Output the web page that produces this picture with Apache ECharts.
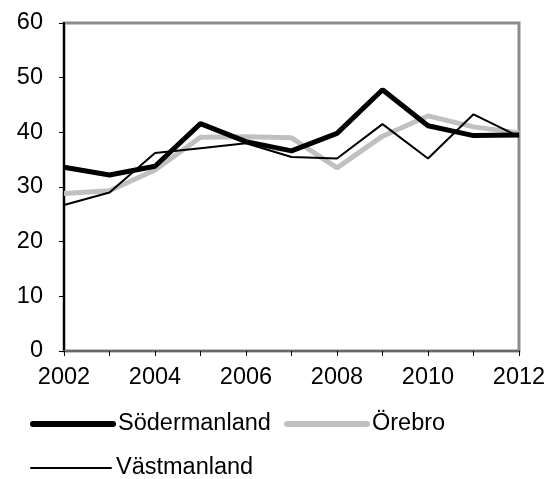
<!DOCTYPE html>
<html>
<head>
<meta charset="utf-8">
<script src="https://cdn.jsdelivr.net/npm/echarts@6/dist/echarts.min.js"></script>
<style>
  html, body { margin: 0; padding: 0; background: #fff; }
  #main { width: 552px; height: 479px; }
</style>
</head>
<body>
<div id="main"></div>
<script>
var years = ['2002', '2003', '2004', '2005', '2006', '2007', '2008', '2009', '2010', '2011', '2012'];
var sodermanland = [33.6, 32.2, 33.8, 41.6, 38.3, 36.6, 39.8, 47.8, 41.2, 39.4, 39.5];
var orebro = [28.8, 29.3, 33.1, 39.1, 39.2, 39.0, 33.5, 39.3, 43.0, 41.0, 39.9];
var vastmanland = [26.7, 29.0, 36.2, 37.1, 38.0, 35.5, 35.2, 41.5, 35.2, 43.3, 39.2];

var font = 'Liberation Sans, Arial, sans-serif';
var chart = echarts.init(document.getElementById('main'));

// one legend per entry so each can sit where it does in the original
function legendAt(name, left, top, lw) {
  return {
    data: [name],
    left: left,
    top: top,
    itemWidth: 80,
    itemHeight: 14,
    padding: 0,
    itemStyle: { color: 'transparent', borderWidth: 0 },
    lineStyle: { width: lw, cap: 'round' },
    textStyle: { fontFamily: font, fontSize: 23.5, color: '#000' }
  };
}

chart.setOption({
  animation: false,
  grid: {
    left: 64, right: 33, top: 23, bottom: 128,
    show: true,
    borderColor: '#8c8c8c',
    borderWidth: 3
  },
  legend: [
    legendAt('Södermanland', 30, 412, 6),
    legendAt('Örebro', 284, 412, 6),
    legendAt('Västmanland', 30, 456, 2)
  ],
  xAxis: {
    type: 'category',
    data: years,
    boundaryGap: false,
    axisLine: { lineStyle: { color: '#666', width: 2 } },
    axisTick: { show: true, interval: 0, length: 5, lineStyle: { color: '#000' } },
    axisLabel: { interval: 1, margin: 15, fontFamily: font, fontSize: 23.5, color: '#000' },
    splitLine: { show: false }
  },
  yAxis: {
    type: 'value',
    min: 0, max: 60, interval: 10,
    axisLine: { show: true, lineStyle: { color: '#000', width: 2 } },
    axisTick: { show: true, length: 5, lineStyle: { color: '#000' } },
    axisLabel: { margin: 21, fontFamily: font, fontSize: 23.5, color: '#000' },
    splitLine: { show: false }
  },
  series: [
    {
      name: 'Södermanland', type: 'line', data: sodermanland,
      symbol: 'none', z: 3,
      lineStyle: { color: '#000', width: 5 }, itemStyle: { color: '#000' }
    },
    {
      name: 'Örebro', type: 'line', data: orebro,
      symbol: 'none', z: 2,
      lineStyle: { color: '#c0c0c0', width: 5 }, itemStyle: { color: '#c0c0c0' }
    },
    {
      name: 'Västmanland', type: 'line', data: vastmanland,
      symbol: 'none', z: 4,
      lineStyle: { color: '#000', width: 2 }, itemStyle: { color: '#000' }
    }
  ]
});
</script>
</body>
</html>
